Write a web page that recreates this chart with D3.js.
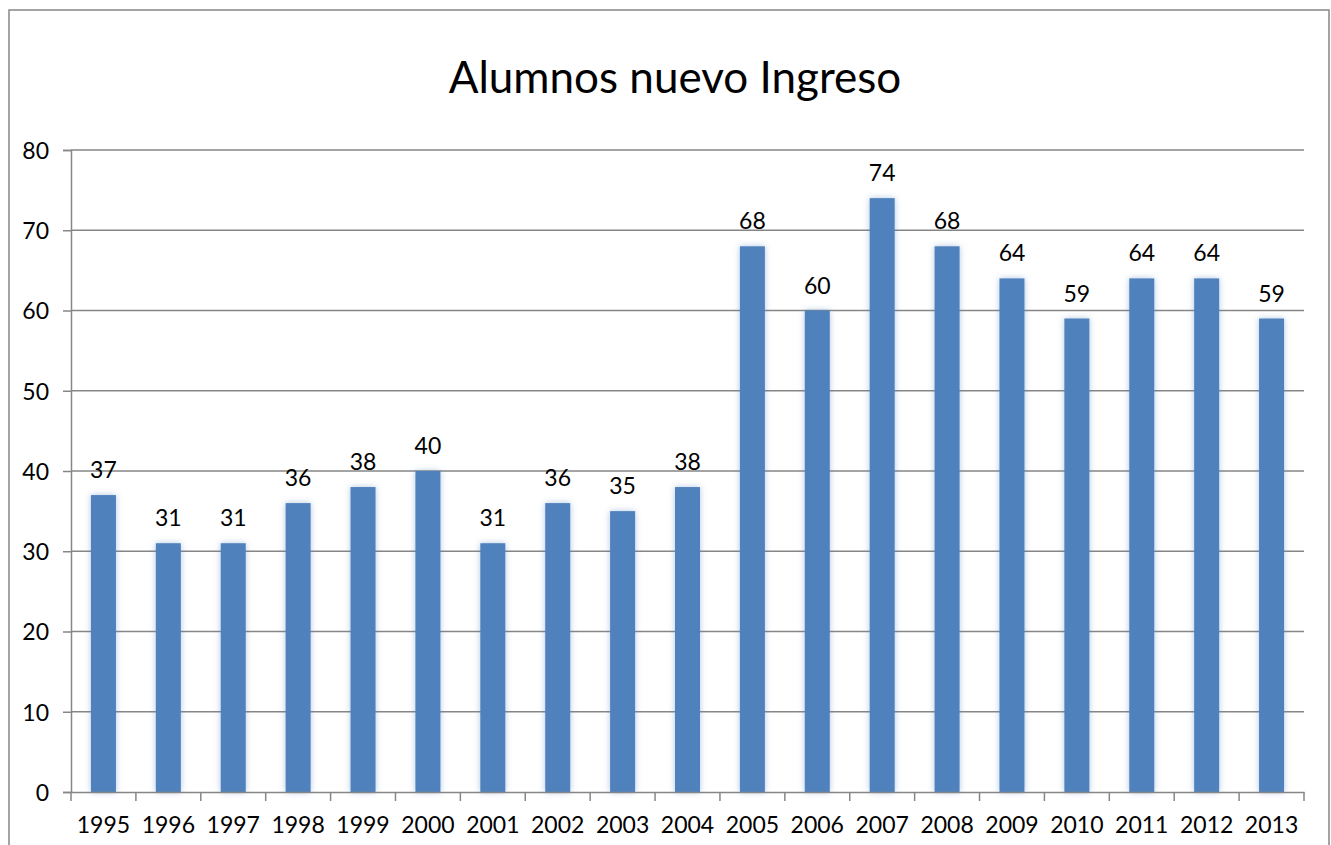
<!DOCTYPE html>
<html>
<head>
<meta charset="utf-8">
<script src="https://cdn.jsdelivr.net/npm/d3@7"></script>
<style>
  body { margin: 0; background: #fff; }
  svg text { font-family: Lato, "Open Sans", sans-serif; fill: #000; }
</style>
</head>
<body>
<div id="main"></div>
<script>
// DATA
const years  = ["1995","1996","1997","1998","1999","2000","2001","2002","2003","2004",
                "2005","2006","2007","2008","2009","2010","2011","2012","2013"]
const alumnos = [37,31,31,36,38,40,31,36,35,38,68,60,74,68,64,59,64,64,59]
const y_ticks = [0,10,20,30,40,50,60,70,80]
const title = "Alumnos nuevo Ingreso"

// SETUP
const width = 1331
const height = 845
const plot = {left: 71, right: 1304, top: 150, bottom: 792}

const svg = d3.select("#main").append("svg")
    .attr("width", width)
    .attr("height", height)

// glow around bars
const defs = svg.append("defs")
const glow = defs.append("filter")
    .attr("id", "glow")
    .attr("x", "-50%").attr("y", "-10%")
    .attr("width", "200%").attr("height", "120%")
glow.append("feDropShadow")
    .attr("dx", 0).attr("dy", 0)
    .attr("stdDeviation", 3)
    .attr("flood-color", "#4F81BD")
    .attr("flood-opacity", 0.45)

// outer border
svg.append("rect")
    .attr("x", 9).attr("y", 10)
    .attr("width", 1320).attr("height", 860)
    .attr("fill", "none")
    .attr("stroke", "#868686")
    .attr("stroke-width", 1.5)

// SCALES
const x = d3.scaleBand()
    .domain(years)
    .range([plot.left, plot.right])
    .paddingInner(0.615)
    .paddingOuter(0.3075)

const y = d3.scaleLinear()
    .domain([0, 80])
    .range([plot.bottom, plot.top])

// GRID + Y AXIS
const y_axis = svg.append("g")
    .attr("transform", `translate(${plot.left},0)`)
    .call(d3.axisLeft(y).tickValues(y_ticks).tickSize(8).tickPadding(14))
y_axis.select(".domain").attr("stroke", "#868686").attr("stroke-width", 1.5)
y_axis.selectAll(".tick line").attr("stroke", "#868686").attr("stroke-width", 1.5)
y_axis.selectAll(".tick text").attr("font-size", 23).attr("dy", "0.36em")

svg.append("g").selectAll("line").data(y_ticks.slice(1))
    .enter().append("line")
        .attr("x1", plot.left).attr("x2", plot.right)
        .attr("y1", d => y(d)).attr("y2", d => y(d))
        .attr("stroke", "#868686")
        .attr("stroke-width", 1.5)

// BARS
svg.append("g").selectAll("rect").data(alumnos)
    .enter().append("rect")
        .attr("x", (d, i) => x(years[i]))
        .attr("y", d => y(d))
        .attr("width", x.bandwidth())
        .attr("height", d => y(0) - y(d))
        .attr("fill", "#4F81BD")
        .attr("filter", "url(#glow)")

// value labels
svg.append("g").selectAll("text").data(alumnos)
    .enter().append("text")
        .attr("x", (d, i) => x(years[i]) + x.bandwidth() / 2)
        .attr("y", d => y(d) - 17)
        .attr("text-anchor", "middle")
        .attr("font-size", 23)
        .text(d => d)

// X AXIS
const x_axis = svg.append("g")
    .attr("transform", `translate(0,${plot.bottom})`)
    .call(d3.axisBottom(x).tickSize(0).tickPadding(25))
x_axis.select(".domain").attr("stroke", "#868686").attr("stroke-width", 1.5)
x_axis.selectAll(".tick text").attr("font-size", 23).attr("dy", "0.71em")

// x tick marks at band boundaries
svg.append("g").selectAll("line").data(d3.range(years.length + 1))
    .enter().append("line")
        .attr("x1", i => plot.left + i * x.step())
        .attr("x2", i => plot.left + i * x.step())
        .attr("y1", plot.bottom).attr("y2", plot.bottom + 9)
        .attr("stroke", "#868686")
        .attr("stroke-width", 1.5)

// TITLE
svg.append("text")
    .attr("x", (447 + 903) / 2)
    .attr("y", 93)
    .attr("text-anchor", "middle")
    .attr("font-size", 44)
    .text(title)
</script>
</body>
</html>
